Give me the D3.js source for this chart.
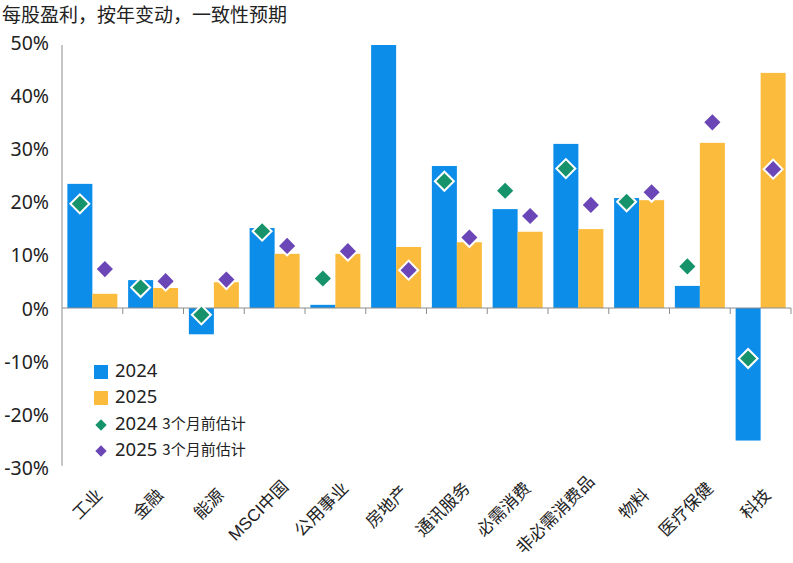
<!DOCTYPE html>
<html><head><meta charset="utf-8">
<script src="https://cdn.jsdelivr.net/npm/d3@7"></script>
<style>
html,body{margin:0;padding:0;background:#fff;}
svg{display:block;font-family:"Noto Sans","Noto Sans CJK SC",sans-serif;}
</style></head>
<body>
<svg id="chart" width="793" height="563"></svg>
<script>
const title = "每股盈利，按年变动，一致性预期";
const categories = ["工业","金融","能源","MSCI中国","公用事业","房地产","通讯服务","必需消费","非必需消费品","物料","医疗保健","科技"];
const eps2024 = [23.6, 5.3, -5.0, 15.2, 0.6, 50.0, 27.0, 18.8, 31.2, 20.9, 4.2, -25.2];
const eps2025 = [2.7, 3.8, 4.9, 10.3, 10.3, 11.6, 12.5, 14.5, 15.0, 20.5, 31.4, 44.7];
const est2024 = [19.8, 3.9, -1.3, 14.6, 5.6, null, 24.1, 22.3, 26.5, 20.2, 7.9, -9.6];
const est2025 = [7.4, 5.1, 5.4, 11.8, 10.8, 7.2, 13.4, 17.5, 19.6, 22.0, 35.3, 26.4];
const yTicks = [50, 40, 30, 20, 10, 0, -10, -20, -30];
const legendLabels = ["2024", "2025", "2024", "2025"];
const legendNote = "3个月前估计";

const colors = {b2024:"#0b8de9", b2025:"#fbbc3d", e2024:"#17936b", e2025:"#6b46b6"};

(function(){
const svg = d3.select("#chart");
const pLeft = 62, pRight = 791, pTop = 45, pBottom = 465.8;

const x = d3.scaleBand().domain(categories).range([pLeft, pRight]).padding(0);
const xs = d3.scaleBand().domain(["2024","2025"]).range([0, x.bandwidth()]).paddingInner(0).paddingOuter(0.215);
const y = d3.scaleLinear().domain([-30, 50]).range([pBottom, pTop]);
const yLab = d3.scaleLinear().domain([50, -30]).range([44.5, 470]);

// title
svg.append("text").attr("x", 2).attr("y", 22).attr("font-size", 19).attr("fill", "#222")
  .attr("font-family", "'Noto Sans CJK SC',sans-serif").text(title);

// y labels
svg.append("g").selectAll("text").data(yTicks).join("text")
  .attr("x", 49).attr("y", d => yLab(d))
  .attr("text-anchor", "end").attr("dominant-baseline", "middle")
  .attr("font-size", 19.5).attr("fill", "#222")
  .text(d => d + "%");

// y axis line
svg.append("line").attr("x1", pLeft).attr("x2", pLeft).attr("y1", pTop).attr("y2", pBottom)
  .attr("stroke", "#8c8c8c").attr("stroke-width", 1);

// bars
const g = svg.append("g");
const barData = [];
categories.forEach((c, i) => {
  barData.push({c, s:"2024", v:eps2024[i]});
  barData.push({c, s:"2025", v:eps2025[i]});
});
g.selectAll("rect.bar").data(barData).join("rect").attr("class","bar")
  .attr("x", d => x(d.c) + xs(d.s))
  .attr("width", xs.bandwidth())
  .attr("y", d => Math.min(y(d.v), y(0)))
  .attr("height", d => Math.abs(y(d.v) - y(0)))
  .attr("fill", d => d.s === "2024" ? colors.b2024 : colors.b2025);

// x axis zero line + ticks
svg.append("line").attr("x1", pLeft).attr("x2", pRight).attr("y1", y(0)).attr("y2", y(0))
  .attr("stroke", "#8c8c8c").attr("stroke-width", 1);
const tickXs = categories.map(c => x(c) + x.bandwidth());
svg.append("g").selectAll("line").data(tickXs).join("line")
  .attr("x1", d => d).attr("x2", d => d).attr("y1", y(0)).attr("y2", y(0) + 6)
  .attr("stroke", "#8c8c8c").attr("stroke-width", 1);

// diamonds
const diamond = d3.symbol().type(d3.symbolSquare).size(180);
const estData = [];
categories.forEach((c, i) => {
  if (est2024[i] != null) estData.push({c, s:"2024", v:est2024[i]});
  if (est2025[i] != null) estData.push({c, s:"2025", v:est2025[i]});
});
svg.append("g").selectAll("path").data(estData).join("path")
  .attr("d", diamond)
  .attr("transform", d => `translate(${x(d.c) + xs(d.s) + xs.bandwidth()/2},${y(d.v)}) rotate(45)`)
  .attr("fill", d => d.s === "2024" ? colors.e2024 : colors.e2025)
  .attr("stroke", "#fff").attr("stroke-width", 2);

// x labels
const xl = svg.append("g").selectAll("text").data(categories).join("text")
  .attr("text-anchor", "end").attr("font-size", 17).attr("fill", "#222")
  .attr("font-family", d => d.startsWith("MSCI") ? "'Liberation Sans','Noto Sans CJK SC',sans-serif" : "'Noto Sans CJK SC',sans-serif")
  .text(d => d);
xl.each(function(d) {
  const w = this.getComputedTextLength();
  const cx = x(d) + x.bandwidth()/2;
  const ax = cx + 8 + 0.09 * w;
  const ay = 503 - 0.2 * w;
  d3.select(this).attr("transform", `translate(${ax},${ay}) rotate(-45)`);
});

// legend
const lg = svg.append("g");
const rowsY = [372, 398, 425, 451];
lg.append("rect").attr("x", 94).attr("y", rowsY[0]-7).attr("width", 14).attr("height", 14).attr("fill", colors.b2024);
lg.append("rect").attr("x", 94).attr("y", rowsY[1]-7).attr("width", 14).attr("height", 14).attr("fill", colors.b2025);
const smallD = d3.symbol().type(d3.symbolSquare).size(64);
lg.append("path").attr("d", smallD).attr("transform", `translate(101,${rowsY[2]}) rotate(45)`).attr("fill", colors.e2024);
lg.append("path").attr("d", smallD).attr("transform", `translate(101,${rowsY[3]}) rotate(45)`).attr("fill", colors.e2025);
legendLabels.forEach((t, i) => {
  const tx = lg.append("text").attr("x", 115).attr("y", rowsY[i]).attr("dominant-baseline", "middle")
    .attr("font-size", 18.5).attr("fill", "#222").text(t);
  if (i >= 2) {
    tx.append("tspan").attr("dx", 5).attr("font-size", 15)
      .attr("font-family", "'Noto Sans CJK SC',sans-serif").text(legendNote);
  }
});
})();
</script>
</body></html>
